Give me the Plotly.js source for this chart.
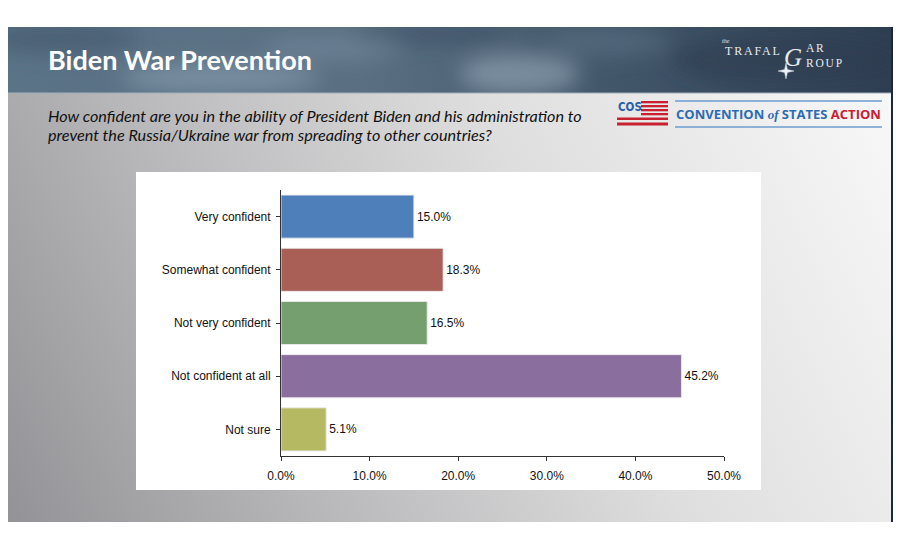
<!DOCTYPE html>
<html>
<head>
<meta charset="utf-8">
<script src="https://cdn.plot.ly/plotly-3.0.1.min.js"></script>
<style>
    html, body { margin: 0; padding: 0; background: #fff; }
    #plot { width: 900px; height: 550px; }
</style>
</head>
<body>
<div id="plot"></div>
<script>
// survey answers and shares (%)
const categories = [
    "Very confident",
    "Somewhat confident",
    "Not very confident",
    "Not confident at all",
    "Not sure"
];
const values = [15.0, 18.3, 16.5, 45.2, 5.1];
const barColors = ["#4f7fba", "#a95f56", "#769f70", "#8a6e9d", "#b5ba62"];
const xTicks = [0, 10, 20, 30, 40, 50];
const xTickText = xTicks.map(v => v.toFixed(1) + "%");

const W = 900, H = 550;
const px = x => x / W;
const py = y => 1 - y / H;

// slide background: grey body gradient and a cloudy header strip
const bgSvg =
    "<svg xmlns='http://www.w3.org/2000/svg' width='900' height='550'>" +
    "<defs>" +
    "<linearGradient id='b' gradientUnits='userSpaceOnUse' x1='8' y1='522' x2='892' y2='93'>" +
    "<stop offset='0' stop-color='#939397'/>" +
    "<stop offset='0.35' stop-color='#bfbfc1'/>" +
    "<stop offset='0.62' stop-color='#dedede'/>" +
    "<stop offset='1' stop-color='#f8f8f8'/>" +
    "</linearGradient>" +
    "<linearGradient id='h' x1='0' y1='0' x2='1' y2='0'>" +
    "<stop offset='0' stop-color='#5b7387'/>" +
    "<stop offset='0.4' stop-color='#5a6f82'/>" +
    "<stop offset='0.7' stop-color='#415569'/>" +
    "<stop offset='1' stop-color='#2e3e52'/>" +
    "</linearGradient>" +
    "<filter id='f' x='-50%' y='-50%' width='200%' height='200%'><feGaussianBlur stdDeviation='10'/></filter>" +
    "<clipPath id='c'><rect x='8' y='27' width='884' height='66'/></clipPath>" +
    "</defs>" +
    "<rect width='900' height='550' fill='#ffffff'/>" +
    "<rect x='8' y='27' width='884' height='495' fill='url(#b)'/>" +
    "<rect x='8' y='27' width='884' height='66' fill='url(#h)'/>" +
    "<g clip-path='url(#c)'><g filter='url(#f)'>" +
    "<ellipse cx='60' cy='38' rx='80' ry='16' fill='#3f566a' opacity='0.6'/>" +
    "<ellipse cx='220' cy='78' rx='100' ry='14' fill='#8ea3b4' opacity='0.6'/>" +
    "<ellipse cx='330' cy='48' rx='70' ry='12' fill='#7a90a3' opacity='0.5'/>" +
    "<ellipse cx='520' cy='74' rx='60' ry='20' fill='#9fb0bf' opacity='0.55'/>" +
    "<ellipse cx='610' cy='42' rx='60' ry='14' fill='#60768a' opacity='0.5'/>" +
    "<ellipse cx='430' cy='34' rx='80' ry='10' fill='#34485c' opacity='0.5'/>" +
    "<ellipse cx='790' cy='60' rx='120' ry='25' fill='#2b3b4f' opacity='0.6'/>" +
    "</g></g>" +
    "<rect x='8' y='92.5' width='884' height='1' fill='#a4adb5'/>" +
    "<rect x='891' y='27' width='2' height='495' fill='#1b283a'/>" +
    "</svg>";

function note(text, x, y, font, extra) {
    return Object.assign({
        text: text,
        x: px(x), y: py(y),
        xref: "paper", yref: "paper",
        xanchor: "left", yanchor: "middle",
        showarrow: false,
        borderpad: 0,
        font: font
    }, extra || {});
}

function box(x0, y0, x1, y1, color, layer) {
    return {
        type: "rect",
        xref: "paper", yref: "paper",
        x0: px(x0), x1: px(x1),
        y0: py(y1), y1: py(y0),
        fillcolor: color,
        line: {width: 0},
        layer: layer || "above"
    };
}

function hline(x0, x1, y, color, width) {
    return {
        type: "line",
        xref: "paper", yref: "paper",
        x0: px(x0), x1: px(x1), y0: py(y), y1: py(y),
        line: {color: color, width: width}
    };
}

function star(cx, cy, r, ri) {
    let d = "";
    for (let i = 0; i < 8; i++) {
        const a = i * Math.PI / 4 - Math.PI / 2;
        const rr = i % 2 === 0 ? r : ri;
        const x = cx + rr * Math.cos(a);
        const y = cy + rr * Math.sin(a);
        d += (i === 0 ? "M" : "L") + px(x) + "," + py(y);
    }
    return {
        type: "path", xref: "paper", yref: "paper",
        path: d + "Z",
        fillcolor: "#eef2f6",
        line: {color: "#cfd8e0", width: 0.5}
    };
}

const red = "#c8202f";
const cosBlue = "#2d6bb3";
const serif = "Liberation Serif, DejaVu Serif, serif";
const trafal = {family: serif, size: 12, color: "#e6ebf0"};

const shapes = [
    box(136, 172, 761, 490, "#ffffff", "below"),
    // COS flag stripes
    box(641, 101, 668, 103.3, red),
    box(641, 105, 668, 107.3, red),
    box(641, 109, 668, 111.3, red),
    box(641, 113, 668, 115.3, red),
    box(617, 117.5, 668, 120, red),
    box(617, 122.5, 668, 125.5, red),
    hline(675, 882, 101, "#6b9bd0", 1.5),
    hline(675, 882, 127, "#6b9bd0", 1.5),
    star(786, 71, 8, 2)
];

const annotations = [
    note("Biden War Prevention", 47, 59,
        {family: "Lato, Open Sans, sans-serif", size: 27, color: "#ffffff", weight: 700}),
    note("How confident are you in the ability of President Biden and his administration to", 47, 115,
        {family: "Lato, Open Sans, sans-serif", size: 16.2, color: "#111111", style: "italic"}),
    note("prevent the Russia/Ukraine war from spreading to other countries?", 47, 134,
        {family: "Lato, Open Sans, sans-serif", size: 16.2, color: "#111111", style: "italic"}),
    note("COS", 617, 107.5,
        {family: "DejaVu Sans Condensed, Roboto, sans-serif", size: 11.5, color: "#2a5ea8", weight: 700}),
    note("CONVENTION <span style='font-family:Liberation Serif, serif;font-style:italic'>of</span> STATES <span style='color:" + red + "'>ACTION</span>",
        675, 114,
        {family: "Open Sans, sans-serif", size: 13, color: cosBlue, weight: 700}),
    note("the", 721, 41, {family: serif, size: 6, color: "#e6ebf0", style: "italic"}),
    note("<span style='letter-spacing:1.8px'>TRAFAL</span>", 724, 51, trafal),
    note("G", 783, 57, {family: serif, size: 25, color: "#e6ebf0", style: "italic"}),
    note("<span style='letter-spacing:1.8px'>AR</span><br><span style='letter-spacing:1.8px'>ROUP</span>", 805, 56,
        {family: serif, size: 11.5, color: "#e6ebf0"}, {align: "left"})
];

const trace = {
    type: "bar",
    orientation: "h",
    x: values,
    y: categories,
    marker: {
        color: barColors,
        line: {color: "rgba(235,235,235,0.9)", width: 1}
    },
    text: values.map(v => v.toFixed(1) + "%"),
    textposition: "outside",
    cliponaxis: false,
    textfont: {family: "Liberation Sans, Arial, sans-serif", size: 12, color: "#111111"},
    hoverinfo: "skip"
};

const axisFont = {family: "Liberation Sans, Arial, sans-serif", size: 12, color: "#111111"};

const layout = {
    width: W,
    height: H,
    margin: {l: 0, r: 0, t: 0, b: 0},
    paper_bgcolor: "#ffffff",
    plot_bgcolor: "rgba(0,0,0,0)",
    showlegend: false,
    bargap: 0.19,
    xaxis: {
        domain: [px(281), px(724)],
        range: [0, 50],
        tickmode: "array",
        tickvals: xTicks,
        ticktext: xTickText,
        showline: true,
        linecolor: "#333333",
        linewidth: 1,
        ticks: "outside",
        ticklen: 4,
        tickcolor: "#333333",
        showgrid: false,
        zeroline: false,
        tickfont: axisFont,
        ticklabelstandoff: 5,
        fixedrange: true
    },
    yaxis: {
        domain: [py(456), py(190)],
        type: "category",
        categoryorder: "array",
        categoryarray: categories,
        range: [categories.length - 0.5, -0.5],
        showline: true,
        linecolor: "#333333",
        linewidth: 1,
        ticks: "outside",
        ticklen: 4,
        tickcolor: "#333333",
        showgrid: false,
        zeroline: false,
        tickfont: axisFont,
        ticklabelstandoff: 3,
        fixedrange: true
    },
    images: [{
        source: "data:image/svg+xml;charset=utf-8," + encodeURIComponent(bgSvg),
        xref: "paper", yref: "paper",
        x: 0, y: 1, sizex: 1, sizey: 1,
        xanchor: "left", yanchor: "top",
        sizing: "stretch",
        layer: "below"
    }],
    shapes: shapes,
    annotations: annotations
};

Plotly.newPlot("plot", [trace], layout, {displayModeBar: false, staticPlot: true});
</script>
</body>
</html>
